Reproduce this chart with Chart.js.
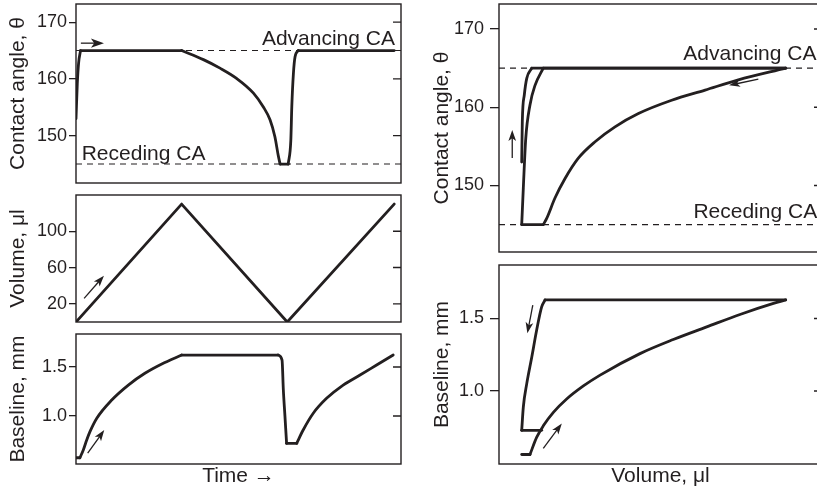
<!DOCTYPE html>
<html>
<head>
<meta charset="utf-8">
<script src="https://cdn.jsdelivr.net/npm/chart.js@4.4.0/dist/chart.umd.min.js"></script>
<style>
  html, body { margin: 0; padding: 0; background: #fff; overflow: hidden; width: 817px; height: 495px; }
  canvas { position: absolute; }
</style>
</head>
<body>
<canvas id="caTime" width="403" height="186" style="left:0;top:0"></canvas>
<canvas id="volTime" width="403" height="135" style="left:0;top:190px"></canvas>
<canvas id="blTime" width="403" height="165" style="left:0;top:330px"></canvas>
<canvas id="caVol" width="403" height="255" style="left:420px;top:0"></canvas>
<canvas id="blVol" width="403" height="235" style="left:420px;top:260px"></canvas>
<script>
// reference levels
const advancingCA = 165;
const recedingCA = 145;

// left column: contact angle vs time
const caTimeT = [0, 0.4, 0.8, 1.4, 32.5, 39.2, 44.3, 49.4, 54.6, 57.6, 59.7, 61.2, 62.2, 62.8, 65.3, 66.1, 66.4, 66.9, 67.4, 68.4, 97.9];
const caTimeAngle = [153, 159.2, 162.8, 165, 165, 163.4, 161.9, 160.1, 157.5, 155.1, 152.8, 149.8, 146.6, 145, 145, 149.2, 155.1, 161, 163.9, 165, 165];
const caTimeCorners = [3, 4, 13, 14, 19];

// volume vs time
const volT = [0, 32.5, 65, 97.9];
const volValue = [0, 130, 0, 130];

// baseline vs time
const blTimeT = [0, 1.2, 2.25, 3.3, 4.3, 6.4, 11.0, 16.1, 21.2, 26.4, 32.5, 62.2, 63.4, 63.8, 64.3, 64.8, 67.9, 69.9, 73, 77.1, 82.2, 87.4, 92.5, 97.6];
const blTimeValue = [0.574, 0.574, 0.653, 0.755, 0.84, 0.977, 1.163, 1.316, 1.436, 1.531, 1.622, 1.622, 1.571, 1.265, 0.993, 0.721, 0.721, 0.857, 1.028, 1.18, 1.316, 1.418, 1.52, 1.622];
const blTimeCorners = [1, 10, 11, 15, 16];

// right column: contact angle vs volume
const caAdv1V = [0, 0.3, 1.3, 2.5, 5, 131];
const caAdv1Angle = [153, 158.2, 161.6, 163.7, 165, 165];
const caRecV = [131, 107.5, 91, 74.4, 57.9, 46.3, 36.4, 28.1, 21.5, 16.5, 12.4, 10.7, 0];
const caRecAngle = [165, 163.5, 162.2, 160.9, 159.2, 157.5, 155.6, 153.5, 150.9, 148.4, 145.8, 145, 145];
const caAdv2V = [0, 0.8, 2, 4.1, 6.6, 10.7, 131];
const caAdv2Angle = [145, 149.7, 156, 160.3, 162.8, 165, 165];

// baseline vs volume
const blAdv1V = [0, 4.1, 7.4, 10.7, 15.7, 22.3, 30.6, 38.9, 58.7, 75.2, 91.8, 108.3, 124.9, 131];
const blAdv1Value = [0.5625, 0.5625, 0.68, 0.76, 0.853, 0.945, 1.035, 1.11, 1.258, 1.355, 1.442, 1.528, 1.604, 1.628];
const blRecV = [131, 11.6, 9.9, 7.4, 5.0, 2.5, 0.8, 0];
const blRecValue = [1.628, 1.628, 1.58, 1.419, 1.235, 1.051, 0.89, 0.729];
const blAdv2V = [0, 9.9];
const blAdv2Value = [0.729, 0.729];

// tick labels
const angleTicks = [150, 160, 170];
const volumeTicks = [20, 60, 100];
const baselineTicks = [1.0, 1.5];

const timeRange = [0, 100];
const volumeRange = [-11.27, 149];

const ink = '#231f20';
const FONT = "'Liberation Sans', Arial, Helvetica, sans-serif";

function pts(xs, ys) { return xs.map((x, i) => ({ x: x, y: ys[i] })); }

function curve(xs, ys, straight) {
  return {
    data: pts(xs, ys), showLine: true, pointRadius: 0, borderColor: ink, borderWidth: 2.8,
    cubicInterpolationMode: straight ? 'default' : 'monotone', tension: 0,
    borderJoinStyle: 'round', borderCapStyle: 'round'
  };
}

// split a curve at its corners so the smoothing doesn't round them off
function pieces(xs, ys, corners) {
  const cuts = [0].concat(corners || [], [xs.length - 1]);
  const out = [];
  for (let k = 0; k < cuts.length - 1; k++) {
    out.push(curve(xs.slice(cuts[k], cuts[k + 1] + 1), ys.slice(cuts[k], cuts[k + 1] + 1)));
  }
  return out;
}

function dashed(level, range) {
  return {
    data: [{ x: range[0], y: level }, { x: range[1], y: level }], showLine: true, pointRadius: 0,
    borderColor: ink, borderWidth: 1.1, borderDash: [6, 5]
  };
}

// frame, inner ticks on the right edge, text notes and arrows
const framePlugin = {
  id: 'frame',
  afterDatasetsDraw(chart, args, o) {
    const { ctx, chartArea: a, scales } = chart;
    const sx = scales.x, sy = scales.y;
    ctx.save();
    ctx.strokeStyle = ink;
    ctx.fillStyle = ink;
    ctx.lineWidth = 1.4;
    ctx.strokeRect(a.left, a.top, a.right - a.left, a.bottom - a.top);
    ctx.beginPath();
    sy.ticks.forEach(t => {
      const y = sy.getPixelForValue(t.value);
      ctx.moveTo(a.right - 8, y);
      ctx.lineTo(a.right, y);
    });
    ctx.stroke();

    ctx.font = '21px ' + FONT;
    ctx.textBaseline = 'alphabetic';
    (o.labels || []).forEach(l => {
      ctx.textAlign = l.align;
      ctx.fillText(l.text, sx.getPixelForValue(l.x), sy.getPixelForValue(l.y));
    });

    (o.arrows || []).forEach(ar => {
      const x0 = sx.getPixelForValue(ar.from[0]), y0 = sy.getPixelForValue(ar.from[1]);
      const x1 = sx.getPixelForValue(ar.to[0]), y1 = sy.getPixelForValue(ar.to[1]);
      const ang = Math.atan2(y1 - y0, x1 - x0);
      const c = Math.cos(ang), s = Math.sin(ang);
      const h = ar.head || 10, w = (ar.head || 10) * 0.35;
      ctx.lineWidth = 1.3;
      ctx.beginPath();
      ctx.moveTo(x0, y0);
      ctx.lineTo(x1 - c * h * 0.7, y1 - s * h * 0.7);
      ctx.stroke();
      ctx.beginPath();
      ctx.moveTo(x1, y1);
      ctx.lineTo(x1 - c * h - s * w, y1 - s * h + c * w);
      ctx.lineTo(x1 - c * h * 0.75, y1 - s * h * 0.75);
      ctx.lineTo(x1 - c * h + s * w, y1 - s * h - c * w);
      ctx.closePath();
      ctx.fill();
    });
    ctx.restore();
  }
};

function makePanel(id, p) {
  return new Chart(document.getElementById(id), {
    type: 'scatter',
    data: { datasets: p.datasets },
    options: {
      responsive: false,
      animation: false,
      events: [],
      layout: { padding: p.padding },
      plugins: {
        legend: { display: false },
        tooltip: { enabled: false },
        frame: { labels: p.labels, arrows: p.arrows }
      },
      scales: {
        x: {
          type: 'linear', min: p.xRange[0], max: p.xRange[1],
          display: !!p.xTitle,
          afterFit: s => {
            s.height = p.xTitle ? 31 : 0;
            s.paddingLeft = 0; s.paddingRight = 0;
          },
          ticks: { display: false },
          grid: { display: false },
          border: { display: false },
          title: {
            display: !!p.xTitle, text: p.xTitle, color: ink,
            font: { family: FONT, size: 21 }, padding: { top: 0, bottom: 6 }
          }
        },
        y: {
          type: 'linear', min: p.yRange[0], max: p.yRange[1],
          afterFit: s => {
            s.width = p.axisWidth;
            s.paddingTop = 0; s.paddingBottom = 0;
          },
          afterBuildTicks: s => { s.ticks = p.yTicks.map(v => ({ value: v })); },
          ticks: {
            color: ink, font: { family: FONT, size: 18 }, padding: p.tickPad,
            callback: v => p.decimals ? v.toFixed(p.decimals) : v
          },
          grid: { drawOnChartArea: false, drawTicks: true, tickLength: p.tickLen, color: ink, lineWidth: 1.3 },
          border: { display: false },
          title: {
            display: true, text: p.yTitle, color: ink,
            font: { family: FONT, size: 21 }, padding: { top: p.titlePad, bottom: 0 }
          }
        }
      }
    },
    plugins: [framePlugin]
  });
}

const leftCommon = { axisWidth: 76, xRange: timeRange, tickLen: 7, tickPad: 2, titlePad: 5.5 };
const rightCommon = { axisWidth: 79, xRange: volumeRange, tickLen: 9, tickPad: 6, titlePad: 10 };

makePanel('caTime', Object.assign({}, leftCommon, {
  padding: { top: 4, bottom: 3, left: 0, right: 2 },
  yRange: [141.66, 173.2], yTicks: angleTicks, yTitle: 'Contact angle, \u03B8',
  datasets: pieces(caTimeT, caTimeAngle, caTimeCorners).concat([dashed(advancingCA, timeRange), dashed(recedingCA, timeRange)]),
  labels: [
    { text: 'Advancing CA', x: 98.15, y: 166.0, align: 'right' },
    { text: 'Receding CA', x: 1.75, y: 145.8, align: 'left' }
  ],
  arrows: [{ from: [1.5, 166.3], to: [8.6, 166.3], head: 13 }]
}));

makePanel('volTime', Object.assign({}, leftCommon, {
  padding: { top: 5, bottom: 3, left: 0, right: 2 },
  yRange: [0, 140], yTicks: volumeTicks, yTitle: 'Volume, \u03BCl',
  datasets: [curve(volT, volValue, true)],
  arrows: [{ from: [2.5, 26], to: [8.6, 51], head: 11 }]
}));

makePanel('blTime', Object.assign({}, leftCommon, {
  padding: { top: 4, bottom: 0, left: 0, right: 2 },
  yRange: [0.51, 1.837], yTicks: baselineTicks, decimals: 1, yTitle: 'Baseline, mm',
  xTitle: 'Time \u2192',
  datasets: pieces(blTimeT, blTimeValue, blTimeCorners),
  arrows: [{ from: [3.6, 0.62], to: [8.7, 0.857], head: 11 }]
}));

makePanel('caVol', Object.assign({}, rightCommon, {
  padding: { top: 4, bottom: 3, left: 0, right: 1 },
  yRange: [141.5, 173.2], yTicks: angleTicks, yTitle: 'Contact angle, \u03B8',
  datasets: pieces(caAdv1V, caAdv1Angle, [4])
    .concat(pieces(caRecV, caRecAngle, [11]))
    .concat(pieces(caAdv2V, caAdv2Angle, [5]))
    .concat([dashed(advancingCA, volumeRange), dashed(recedingCA, volumeRange)]),
  labels: [
    { text: 'Advancing CA', x: 80.2, y: 166.1, align: 'left' },
    { text: 'Receding CA', x: 85.2, y: 145.8, align: 'left' }
  ],
  arrows: [
    { from: [-4.7, 153.5], to: [-4.7, 157.1], head: 11 },
    { from: [117.4, 163.6], to: [102.9, 162.8], head: 11 }
  ]
}));

makePanel('blVol', Object.assign({}, rightCommon, {
  padding: { top: 5, bottom: 0, left: 0, right: 1 },
  yRange: [0.497, 1.869], yTicks: baselineTicks, decimals: 1, yTitle: 'Baseline, mm',
  xTitle: 'Volume, \u03BCl',
  datasets: pieces(blAdv1V, blAdv1Value, [1])
    .concat(pieces(blRecV, blRecValue, [1]))
    .concat([curve(blAdv2V, blAdv2Value, true)]),
  arrows: [
    { from: [5.5, 1.593], to: [2.8, 1.398], head: 11 },
    { from: [10.7, 0.605], to: [19.9, 0.777], head: 11 }
  ]
}));
</script>
</body>
</html>
